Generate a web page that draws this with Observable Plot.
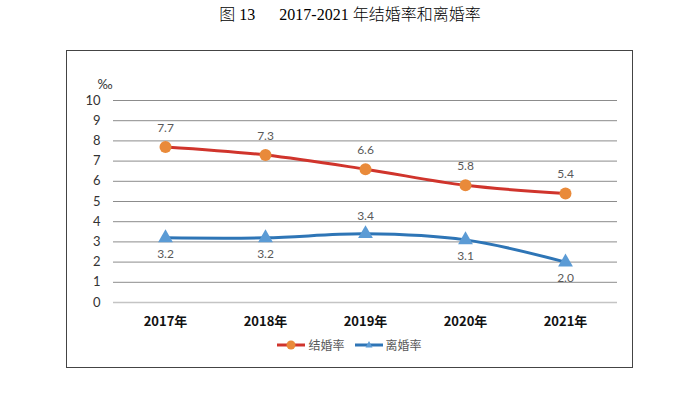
<!DOCTYPE html>
<html><head><meta charset="utf-8">
<script src="https://cdn.jsdelivr.net/npm/d3@7"></script>
<script src="https://cdn.jsdelivr.net/npm/@observablehq/plot@0.6"></script>
<style>
body{margin:0;background:#fff;width:700px;height:393px;position:relative;overflow:hidden;font-family:"Noto Sans CJK SC",sans-serif;}
#title{position:absolute;left:0;top:1px;width:700px;text-align:center;font-size:16px;font-weight:300;color:#000;font-family:"Liberation Serif","Noto Sans CJK SC",serif;}
#box{position:absolute;left:66px;top:50px;width:565px;height:316px;border:1px solid #444;}
#chart{position:absolute;left:0;top:0;}
#legend{position:absolute;left:0;top:285px;width:565px;display:flex;justify-content:center;align-items:center;font-size:12px;color:#595959;gap:0px;}
#legend span{display:inline-flex;align-items:center;margin:0 5px;}
#legend svg{margin-right:3px;}
</style></head>
<body>
<div id="title">图 13&nbsp;&nbsp;&nbsp;&nbsp;&nbsp;&nbsp;2017-2021 年结婚率和离婚率</div>
<div id="box"><div id="chart"></div>
<div id="legend">
<span><svg width="28" height="12"><line x1="0" y1="6" x2="28" y2="6" stroke="#D0342C" stroke-width="3"/><circle cx="14" cy="6" r="4.5" fill="#E98A3A"/></svg>结婚率</span>
<span><svg width="28" height="12"><line x1="0" y1="6" x2="28" y2="6" stroke="#2E75B6" stroke-width="3"/><path d="M14,2 L17.5,8.5 L10.5,8.5 Z" fill="#5B9BD5"/></svg>离婚率</span>
</div></div>
<script>
const years = ["2017年","2018年","2019年","2020年","2021年"];
const marriage = [7.7, 7.3, 6.6, 5.8, 5.4];
const divorce = [3.2, 3.2, 3.4, 3.1, 2.0];
const yTicks = [0,1,2,3,4,5,6,7,8,9,10];

const mData = years.map((y,i)=>({year:y, v:marriage[i]}));
const dData = years.map((y,i)=>({year:y, v:divorce[i]}));
const maxD = d3.max(divorce);

const chart = Plot.plot({
  width: 565, height: 285,
  marginLeft: 46, marginRight: 15, marginTop: 49, marginBottom: 34,
  style: {fontFamily: "Lato, 'Liberation Sans', sans-serif", fontSize: "13px", color: "#333", background: "transparent"},
  x: {type: "point", domain: years, padding: 0.5, label: null},
  y: {domain: [0, 10], label: null},
  marks: [
    Plot.ruleY(yTicks.filter(t=>t>0), {stroke: "#8c8c8c", strokeWidth: 1}),
    Plot.ruleY([0], {stroke: "#c4c4c4", strokeWidth: 1.5}),
    Plot.axisY({ticks: yTicks, tickSize: 0, tickPadding: 13, fill: "#333", fontSize: 13}),
    Plot.axisX({tickSize: 0, tickPadding: 14, fill: "#111", fontWeight: "bold", fontSize: 13, fontFamily: "'Noto Sans CJK SC', sans-serif"}),
    Plot.text(["‰"], {frameAnchor: "top-left", dx: -16, dy: -21, fontSize: 13, fill: "#333"}),
    Plot.line(mData, {x: "year", y: "v", stroke: "#D0342C", strokeWidth: 3, curve: "catmull-rom"}),
    Plot.line(dData, {x: "year", y: "v", stroke: "#2E75B6", strokeWidth: 3, curve: "catmull-rom"}),
    Plot.dot(mData, {x: "year", y: "v", r: 6, fill: "#E98A3A", stroke: "none"}),
    Plot.dot(dData, {x: "year", y: "v", r: 5.5, symbol: "triangle", fill: "#5B9BD5", stroke: "none"}),
    Plot.text(mData, {x: "year", y: "v", text: d=>d.v.toFixed(1), dy: -19, fill: "#595959", fontSize: 12}),
    Plot.text(dData.filter(d=>d.v!==maxD), {x: "year", y: "v", text: d=>d.v.toFixed(1), dy: 16, fill: "#595959", fontSize: 12}),
    Plot.text(dData.filter(d=>d.v===maxD), {x: "year", y: "v", text: d=>d.v.toFixed(1), dy: -18, fill: "#595959", fontSize: 12})
  ]
});
document.getElementById("chart").appendChild(chart);
</script>
</body></html>
